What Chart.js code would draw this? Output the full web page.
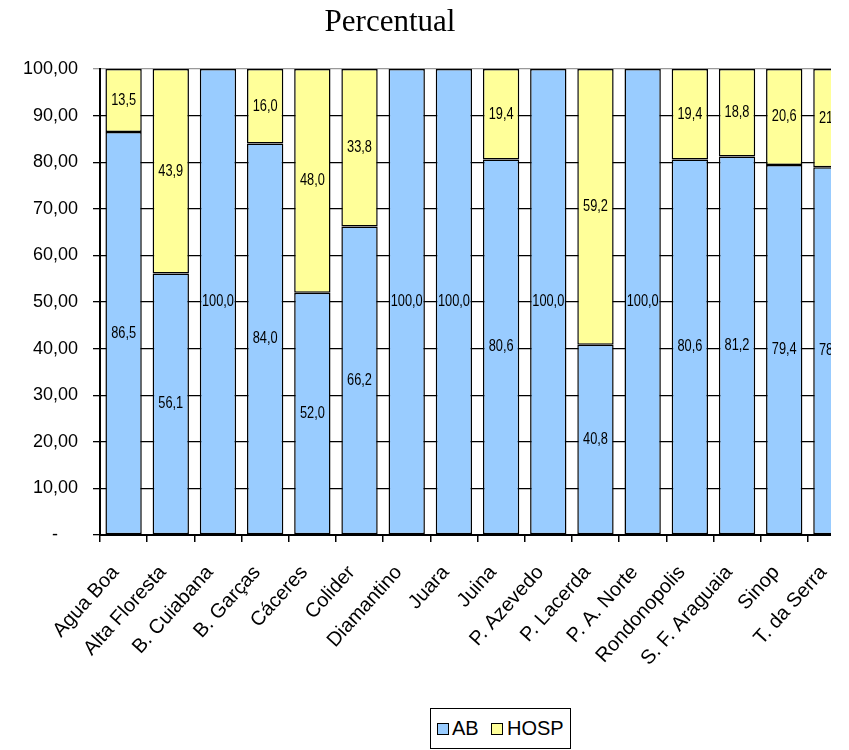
<!DOCTYPE html>
<html>
<head>
<meta charset="utf-8">
<script src="https://cdn.jsdelivr.net/npm/chart.js@4/dist/chart.umd.min.js"></script>
<style>
  html, body { margin: 0; padding: 0; background: #fff; }
  #wrap { position: relative; width: 849px; height: 750px; overflow: hidden; }
  #clip { position: absolute; left: 0; top: 0; width: 831px; height: 750px; overflow: hidden; }
  #title { position: absolute; left: 0; top: 3px; width: 780px; text-align: center;
           font: 31px/36px "Liberation Serif", "Times New Roman", serif; color: #000; }
  #legend { position: absolute; left: 430px; top: 708px; width: 141px; height: 41px;
            box-sizing: border-box; border: 1px solid #000; background: #fff;
            font: 20px "Liberation Sans", Arial, sans-serif; color: #000; }
  .sw { position: absolute; top: 14px; width: 10px; height: 10px; border: 1px solid #000; }
  .lt { position: absolute; top: 8px; line-height: 22px; }
</style>
</head>
<body>
<div id="wrap">
  <div id="clip"><canvas id="c" width="880" height="750"></canvas></div>
  <div id="title">Percentual</div>
  <div id="legend"></div>
</div>
<script>
// Municipalities (x categories)
const categories = ['Agua Boa', 'Alta Floresta', 'B. Cuiabana', 'B. Garças', 'Cáceres', 'Colider',
  'Diamantino', 'Juara', 'Juina', 'P. Azevedo', 'P. Lacerda', 'P. A. Norte', 'Rondonopolis',
  'S. F. Araguaia', 'Sinop', 'T. da Serra'];

// Share of each municipality (%)
const abValues   = [86.5, 56.1, 100.0, 84.0, 52.0, 66.2, 100.0, 100.0, 80.6, 100.0, 40.8, 100.0, 80.6, 81.2, 79.4, 78.9];
const hospValues = [13.5, 43.9,   0.0, 16.0, 48.0, 33.8,   0.0,   0.0, 19.4,   0.0, 59.2,   0.0, 19.4, 18.8, 20.6, 21.1];

// Y axis ticks
const yTicks = [0, 10, 20, 30, 40, 50, 60, 70, 80, 90, 100];

const seriesNames = ['AB', 'HOSP'];
const seriesColors = ['#99CCFF', '#FFFF99'];

const fmt1 = v => v.toFixed(1).replace('.', ',');
const fmt2 = v => v === 0 ? '-\u2007\u2007' : v.toFixed(2).replace('.', ',');

// Value labels centred inside each stacked segment (condensed type)
const segmentLabels = {
  id: 'segmentLabels',
  afterDatasetsDraw(chart) {
    const ctx = chart.ctx;
    chart.data.datasets.forEach((ds, di) => {
      const meta = chart.getDatasetMeta(di);
      meta.data.forEach((bar, i) => {
        const v = ds.data[i];
        if (!v) return;
        ctx.save();
        ctx.translate(bar.x, (bar.y + bar.base) / 2);
        ctx.scale(0.8, 1);
        ctx.font = '16px "Liberation Sans", Arial, sans-serif';
        ctx.fillStyle = '#000';
        ctx.textAlign = 'center';
        ctx.textBaseline = 'middle';
        ctx.fillText(fmt1(v), 0, 0);
        ctx.restore();
      });
    });
  }
};

new Chart(document.getElementById('c'), {
  type: 'bar',
  data: {
    labels: categories,
    datasets: [
      { label: seriesNames[0], data: abValues, backgroundColor: seriesColors[0],
        borderColor: '#000', borderWidth: 1.5, borderSkipped: false },
      { label: seriesNames[1], data: hospValues, backgroundColor: seriesColors[1],
        borderColor: '#000', borderWidth: 1.5, borderSkipped: false }
    ]
  },
  options: {
    responsive: false,
    animation: false,
    devicePixelRatio: 1,
    layout: { padding: { left: 0, right: 25, top: 69, bottom: 0 } },
    datasets: { bar: { barPercentage: 0.77, categoryPercentage: 1.0 } },
    plugins: { legend: { display: false }, tooltip: { enabled: false }, title: { display: false } },
    scales: {
      x: {
        stacked: true,
        offset: true,
        afterFit: s => { s.height = 215; },
        grid: { offset: true, drawOnChartArea: false, drawTicks: true, tickLength: 7, color: '#000', lineWidth: 1.5 },
        border: { display: true, color: '#000', width: 2 },
        ticks: {
          autoSkip: false, minRotation: 48, maxRotation: 48, padding: 19, labelOffset: -8,
          color: '#000', font: { family: '"Liberation Sans", Arial, sans-serif', size: 20 }
        }
      },
      y: {
        stacked: true,
        min: 0, max: 100,
        afterFit: s => { s.width = 100; },
        afterBuildTicks: s => { s.ticks = yTicks.map(v => ({ value: v })); },
        grid: {
          color: c => (c.tick && c.tick.value === 100) ? '#999' : '#000',
          lineWidth: 1.3, tickLength: 7, drawTicks: true
        },
        border: { display: true, color: '#000', width: 2 },
        ticks: {
          padding: 15, color: '#000',
          font: { family: '"Liberation Sans", Arial, sans-serif', size: 18 },
          callback: v => fmt2(v)
        }
      }
    }
  },
  plugins: [segmentLabels]
});

// Legend built from the series definitions
const legend = document.getElementById('legend');
const legendPos = [{ sw: 6, tx: 21 }, { sw: 60, tx: 76 }];
seriesNames.forEach((name, i) => {
  const sw = document.createElement('div');
  sw.className = 'sw';
  sw.style.left = legendPos[i].sw + 'px';
  sw.style.background = seriesColors[i];
  legend.appendChild(sw);
  const t = document.createElement('div');
  t.className = 'lt';
  t.style.left = legendPos[i].tx + 'px';
  t.textContent = name;
  legend.appendChild(t);
});
</script>
</body>
</html>
